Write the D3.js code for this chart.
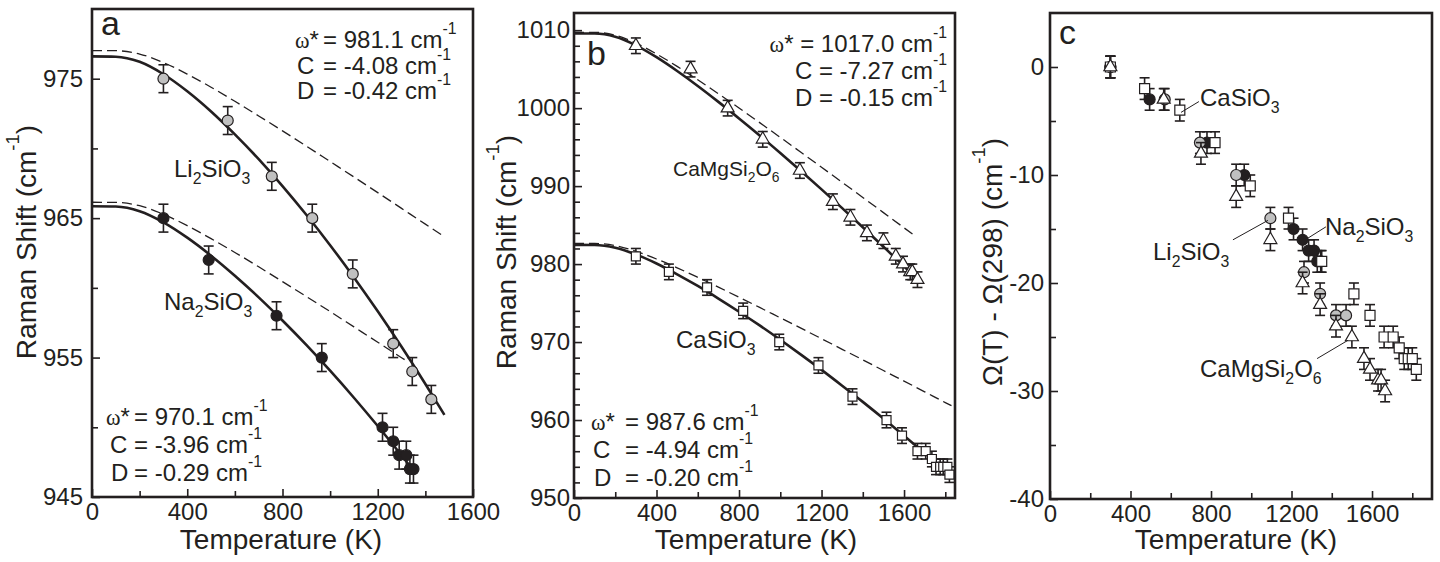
<!DOCTYPE html>
<html>
<head>
<meta charset="utf-8">
<script src="https://cdn.jsdelivr.net/npm/d3@7"></script>
<style>
  body { margin: 0; background: #fff; }
  svg { display: block; font-family: "Liberation Sans", Arial, sans-serif; }
</style>
</head>
<body>
<div id="chart"></div>
<script>
// ---------- data ----------

// panel a : measured points (T in K, shift in cm-1), error +-1
var liT = [300, 570, 755, 925, 1095, 1265, 1345, 1425];
var liW = [975, 972, 968, 965, 961, 956, 954, 952];
var naT = [300, 490, 775, 965, 1220, 1265, 1290, 1320, 1335, 1350];
var naW = [965, 962, 958, 955, 950, 949, 948, 948, 947, 947];

// panel a : fitted curves (solid) and quasi-harmonic part (dashed)
var liFitT  = [0, 100, 200, 300, 400, 500, 600, 700, 800, 900, 1000, 1100, 1200, 1300, 1400, 1480];
var liFitW  = [976.60, 976.58, 976.21, 975.32, 974.10, 972.65, 971.01, 969.23, 967.30, 965.24, 963.06, 960.75, 958.32, 955.77, 953.10, 950.89];
var liDashW = [977.02, 977.01, 976.77, 976.16, 975.33, 974.39, 973.38, 972.33, 971.26, 970.17, 969.06, 967.95, 966.83, 965.70, 964.57, 963.67];
var naFitT  = [0, 100, 200, 300, 400, 500, 600, 700, 800, 900, 1000, 1100, 1200, 1300, 1350];
var naFitW  = [965.85, 965.83, 965.50, 964.70, 963.60, 962.31, 960.87, 959.32, 957.66, 955.91, 954.06, 952.12, 950.09, 947.98, 946.90];
var naDashT = [0, 100, 200, 300, 400, 500, 600, 700, 800, 900, 1000, 1100, 1200, 1300, 1315];
var naDashW = [966.14, 966.13, 965.89, 965.28, 964.46, 963.53, 962.54, 961.51, 960.45, 959.38, 958.30, 957.20, 956.10, 954.99, 954.83];

// panel b : measured points
var mgT = [300, 565, 745, 915, 1095, 1255, 1340, 1420, 1500, 1560, 1595, 1630, 1640, 1665];
var mgW = [1008, 1005, 1000, 996, 992, 988, 986, 984, 983, 981, 980, 979, 979, 978];
var caT = [300, 460, 645, 820, 995, 1185, 1350, 1515, 1590, 1665, 1705, 1735, 1755, 1775, 1790, 1810, 1820];
var caW = [981, 979, 977, 974, 970, 967, 963, 960, 958, 956, 956, 955, 954, 954, 954, 954, 953];

// panel b : curves
var mgFitT  = [0, 100, 200, 300, 400, 500, 600, 700, 800, 900, 1000, 1100, 1200, 1300, 1400, 1500, 1600, 1660];
var mgFitW  = [1009.58, 1009.57, 1009.15, 1008.05, 1006.53, 1004.76, 1002.84, 1000.80, 998.68, 996.50, 994.24, 991.94, 989.58, 987.18, 984.73, 982.23, 979.70, 978.15];
var mgDashT = [0, 100, 200, 300, 400, 500, 600, 700, 800, 900, 1000, 1100, 1200, 1300, 1400, 1500, 1600, 1650];
var mgDashW = [1009.73, 1009.72, 1009.35, 1008.34, 1006.95, 1005.35, 1003.63, 1001.84, 1000.01, 998.14, 996.25, 994.34, 992.42, 990.49, 988.55, 986.60, 984.65, 983.67];
var caFitT  = [0, 100, 200, 300, 400, 500, 600, 700, 800, 900, 1000, 1100, 1200, 1300, 1400, 1500, 1600, 1700];
var caFitW  = [982.46, 982.45, 982.10, 981.24, 980.07, 978.69, 977.19, 975.58, 973.89, 972.13, 970.29, 968.39, 966.43, 964.40, 962.33, 960.19, 957.99, 955.74];
var caDashT = [0, 100, 200, 300, 400, 500, 600, 700, 800, 900, 1000, 1100, 1200, 1300, 1400, 1500, 1600, 1700, 1800, 1830];
var caDashW = [982.66, 982.65, 982.37, 981.64, 980.65, 979.52, 978.30, 977.04, 975.75, 974.44, 973.11, 971.78, 970.43, 969.07, 967.72, 966.35, 964.99, 963.62, 962.24, 961.84];

// panel c : shift relative to 298 K
var cCaT = [300, 470, 645, 820, 995, 1185, 1350, 1510, 1590, 1660, 1705, 1735, 1760, 1780, 1800, 1820];
var cCaD = [0, -2, -4, -7, -11, -14, -18, -21, -23, -25, -25, -26, -27, -27, -27, -28];
var cMgT = [300, 565, 750, 925, 1095, 1255, 1342, 1421, 1500, 1560, 1590, 1630, 1645, 1665];
var cMgD = [0, -3, -8, -12, -16, -20, -22, -24, -25, -27, -28, -29, -29, -30];
var cLiT = [300, 570, 745, 925, 1095, 1262, 1342, 1421, 1471];
var cLiD = [0, -3, -7, -10, -14, -19, -21, -23, -23];
var cNaT = [300, 495, 780, 965, 1210, 1255, 1285, 1312, 1328, 1345];
var cNaD = [0, -3, -7, -10, -15, -16, -17, -17, -18, -18];

// tick labels
var xTicks = [0, 400, 800, 1200, 1600];
var yTicksA = [945, 955, 965, 975];
var yTicksB = [950, 960, 970, 980, 990, 1000, 1010];
var yTicksC = [0, -10, -20, -30, -40];

// ---------- drawing ----------
var ink = "#231f20";
var gray = "#c0c0c0";

var svg = d3.select("#chart").append("svg")
    .attr("width", 1440)
    .attr("height", 562);

function pairs(xs, ys) {
    return xs.map(function(d, i) { return [d, ys[i]]; });
}

// text with sub / superscripts, parts = [[string, "sub"|"sup"|"serif"|undefined], ...]
function richText(g, x, y, parts, size, anchor) {
    var t = g.append("text")
        .attr("x", x)
        .attr("y", y)
        .attr("font-size", size)
        .attr("fill", ink)
        .attr("text-anchor", anchor || "start");
    var shift = 0;
    parts.forEach(function(p) {
        var small = p[1] === "sub" || p[1] === "sup";
        var target = p[1] === "sub" ? size * 0.3 : (p[1] === "sup" ? -size * 0.6 : 0);
        var ts = t.append("tspan")
            .attr("dy", target - shift)
            .attr("font-size", small ? size * 0.66 : size)
            .text(p[0]);
        if (p[1] === "serif") ts.attr("font-family", "Liberation Serif, serif").attr("font-size", size * 0.92);
        shift = target;
    });
    return t;
}

function makePanel(cfg) {
    var x = d3.scaleLinear().domain(cfg.xDomain).range(cfg.xRange);
    var y = d3.scaleLinear().domain(cfg.yDomain).range(cfg.yRange);
    var g = svg.append("g");
    var plain = function(d) { return String(d); };

    var bottom = cfg.yRange[0], top = cfg.yRange[1];

    // minor ticks
    g.append("g")
        .attr("transform", "translate(0," + bottom + ")")
        .call(d3.axisBottom(x).tickValues(cfg.xMinor).tickSize(-6).tickSizeOuter(0).tickFormat(""));
    g.append("g")
        .attr("transform", "translate(" + cfg.xRange[0] + ",0)")
        .call(d3.axisLeft(y).tickValues(cfg.yMinor).tickSize(-6).tickSizeOuter(0).tickFormat(""));

    // major ticks + labels
    g.append("g")
        .attr("transform", "translate(0," + bottom + ")")
        .call(d3.axisBottom(x).tickValues(xTicks).tickSize(-8).tickSizeOuter(0).tickPadding(6).tickFormat(plain));
    g.append("g")
        .attr("transform", "translate(" + cfg.xRange[0] + ",0)")
        .call(d3.axisLeft(y).tickValues(cfg.yTicks).tickSize(-8).tickSizeOuter(0).tickPadding(cfg.yPad).tickFormat(plain));

    g.selectAll(".domain").remove();
    g.selectAll(".tick line").attr("stroke", ink).attr("stroke-width", 1.6);
    g.selectAll(".tick text")
        .attr("font-size", 24)
        .attr("fill", ink)
        .attr("font-family", "Liberation Sans, Arial, sans-serif");

    // frame
    g.append("rect")
        .attr("x", cfg.xRange[0])
        .attr("y", top)
        .attr("width", cfg.xRange[1] - cfg.xRange[0])
        .attr("height", bottom - top)
        .attr("fill", "none")
        .attr("stroke", ink)
        .attr("stroke-width", 2.6);

    // axis titles
    g.append("text")
        .attr("x", cfg.xTitleX)
        .attr("y", 549)
        .attr("text-anchor", "middle")
        .attr("font-size", 28)
        .attr("fill", ink)
        .text("Temperature (K)");
    var yt = g.append("g")
        .attr("transform", "translate(" + cfg.yTitle[0] + "," + cfg.yTitle[1] + ") rotate(-90)");
    richText(yt, 0, 0, cfg.yTitleParts, 28, "middle");

    // panel letter
    g.append("text")
        .attr("x", cfg.letter[0])
        .attr("y", cfg.letter[1])
        .attr("font-size", 34)
        .attr("fill", ink)
        .text(cfg.letterText);

    return { g: g, x: x, y: y };
}

function drawCurve(p, xs, ys, dashed) {
    var line = d3.line()
        .x(function(d) { return p.x(d[0]); })
        .y(function(d) { return p.y(d[1]); })
        .curve(d3.curveMonotoneX);
    p.g.append("path")
        .datum(pairs(xs, ys))
        .attr("d", line)
        .attr("fill", "none")
        .attr("stroke", ink)
        .attr("stroke-width", dashed ? 1.3 : 2.6)
        .attr("stroke-dasharray", dashed ? "10,5" : null);
}

function drawErrors(p, xs, ys, err) {
    var data = pairs(xs, ys);
    var eg = p.g.append("g").attr("stroke", ink).attr("stroke-width", 1.6);
    eg.selectAll(".v").data(data).enter().append("line")
        .attr("x1", function(d) { return p.x(d[0]); })
        .attr("x2", function(d) { return p.x(d[0]); })
        .attr("y1", function(d) { return p.y(d[1] - err); })
        .attr("y2", function(d) { return p.y(d[1] + err); });
    [-err, err].forEach(function(e) {
        eg.selectAll(".c").data(data).enter().append("line")
            .attr("x1", function(d) { return p.x(d[0]) - 5; })
            .attr("x2", function(d) { return p.x(d[0]) + 5; })
            .attr("y1", function(d) { return p.y(d[1] + e); })
            .attr("y2", function(d) { return p.y(d[1] + e); });
    });
}

function drawMarkers(p, xs, ys, shape, fill, size) {
    var sym = d3.symbol().type(shape).size(size);
    p.g.append("g").selectAll("path")
        .data(pairs(xs, ys))
        .enter()
        .append("path")
            .attr("d", sym)
            .attr("transform", function(d) { return "translate(" + p.x(d[0]) + "," + p.y(d[1]) + ")"; })
            .attr("fill", fill)
            .attr("stroke", ink)
            .attr("stroke-width", 1.2);
}

function series(p, xs, ys, shape, fill, size) {
    drawErrors(p, xs, ys, 1);
    drawMarkers(p, xs, ys, shape, fill, size);
}

// formula block: name at lx, rest at rx
function formula(g, lx, rx, y, name, rest) {
    richText(g, lx, y, name, 24);
    richText(g, rx, y, [[rest], ["-1", "sup"]], 24);
}

var OMEGA = [["\u03c9", "serif"], ["*"]];
var ramanTitle = [["Raman Shift (cm"], ["-1", "sup"], [")"]];
var CIRCLE = 95, SQUARE = 81, TRI = 73;

// ---- panel a ----
var pa = makePanel({
    xDomain: [0, 1600], xRange: [92, 473],
    yDomain: [945, 980], yRange: [497, 9],
    xMinor: [200, 600, 1000, 1400], yMinor: [950, 960, 970],
    yTicks: yTicksA, yPad: 9,
    xTitleX: 281, yTitle: [36, 242], yTitleParts: ramanTitle,
    letter: [101, 35], letterText: "a"
});
drawCurve(pa, liFitT, liDashW, true);
drawCurve(pa, naDashT, naDashW, true);
drawCurve(pa, liFitT, liFitW, false);
drawCurve(pa, naFitT, naFitW, false);
series(pa, liT, liW, d3.symbolCircle, gray, CIRCLE);
series(pa, naT, naW, d3.symbolCircle, ink, CIRCLE);

formula(pa.g, 295, 323, 48, OMEGA, "= 981.1 cm");
formula(pa.g, 297, 323, 74, [["C"]], "= -4.08 cm");
formula(pa.g, 297, 323, 99, [["D"]], "= -0.42 cm");
formula(pa.g, 106, 134, 425, OMEGA, "= 970.1 cm");
formula(pa.g, 110, 134, 453, [["C"]], "= -3.96 cm");
formula(pa.g, 111, 134, 481, [["D"]], "= -0.29 cm");
richText(pa.g, 174, 177, [["Li"], ["2", "sub"], ["SiO"], ["3", "sub"]], 24);
richText(pa.g, 164, 310, [["Na"], ["2", "sub"], ["SiO"], ["3", "sub"]], 24);

// ---- panel b ----
var pb = makePanel({
    xDomain: [0, 1847], xRange: [574, 955],
    yDomain: [950, 1012.2], yRange: [498, 13],
    xMinor: [200, 600, 1000, 1400, 1800],
    yMinor: d3.range(952, 1010, 2).filter(function(v) { return v % 10 !== 0; }),
    yTicks: yTicksB, yPad: 4,
    xTitleX: 756, yTitle: [516, 252], yTitleParts: ramanTitle,
    letter: [587, 65], letterText: "b"
});
drawCurve(pb, mgDashT, mgDashW, true);
drawCurve(pb, caDashT, caDashW, true);
drawCurve(pb, mgFitT, mgFitW, false);
drawCurve(pb, caFitT, caFitW, false);
series(pb, mgT, mgW, d3.symbolTriangle, "#fff", TRI);
series(pb, caT, caW, d3.symbolSquare, "#fff", SQUARE);

richText(pb.g, 947, 52, [["\u03c9", "serif"], ["* = 1017.0 cm"], ["-1", "sup"]], 24, "end");
richText(pb.g, 947, 79, [["C = -7.27 cm"], ["-1", "sup"]], 24, "end");
richText(pb.g, 947, 106, [["D = -0.15 cm"], ["-1", "sup"]], 24, "end");
formula(pb.g, 591, 625, 430, OMEGA, "= 987.6 cm");
formula(pb.g, 593, 625, 458, [["C"]], "= -4.94 cm");
formula(pb.g, 594, 625, 486, [["D"]], "= -0.20 cm");
richText(pb.g, 673, 176, [["CaMgSi"], ["2", "sub"], ["O"], ["6", "sub"]], 21);
richText(pb.g, 676, 348, [["CaSiO"], ["3", "sub"]], 24);

// ---- panel c ----
var pc = makePanel({
    xDomain: [0, 1898], xRange: [1050, 1432],
    yDomain: [-40, 5], yRange: [499, 13],
    xMinor: [200, 600, 1000, 1400, 1800], yMinor: [-5, -15, -25, -35],
    yTicks: yTicksC, yPad: 6,
    xTitleX: 1236, yTitle: [1002, 262],
    yTitleParts: [["\u03a9(T) - \u03a9(298) (cm"], ["-1", "sup"], [")"]],
    letter: [1059, 44], letterText: "c"
});
// draw order follows the reference: black under gray under squares under triangles
series(pc, cNaT, cNaD, d3.symbolCircle, ink, CIRCLE);
series(pc, cLiT, cLiD, d3.symbolCircle, gray, CIRCLE);
series(pc, cCaT, cCaD, d3.symbolSquare, "#fff", 100);
series(pc, cMgT, cMgD, d3.symbolTriangle, "#fff", TRI);

// leader lines for the labels (data units)
var leaders = [
    [[651, -4.2], [740, -3.2]],
    [[1277, -15.9], [1371, -14.8]],
    [[909, -16.0], [1083, -14.2]],
    [[1327, -27.0], [1481, -25.3]]
];
pc.g.selectAll(".leader").data(leaders).enter().append("line")
    .attr("x1", function(d) { return pc.x(d[0][0]); })
    .attr("y1", function(d) { return pc.y(d[0][1]); })
    .attr("x2", function(d) { return pc.x(d[1][0]); })
    .attr("y2", function(d) { return pc.y(d[1][1]); })
    .attr("stroke", ink)
    .attr("stroke-width", 1);

richText(pc.g, 1200, 106, [["CaSiO"], ["3", "sub"]], 24);
richText(pc.g, 1325, 235, [["Na"], ["2", "sub"], ["SiO"], ["3", "sub"]], 24);
richText(pc.g, 1153, 260, [["Li"], ["2", "sub"], ["SiO"], ["3", "sub"]], 24);
richText(pc.g, 1200, 377, [["CaMgSi"], ["2", "sub"], ["O"], ["6", "sub"]], 24);
</script>
</body>
</html>
